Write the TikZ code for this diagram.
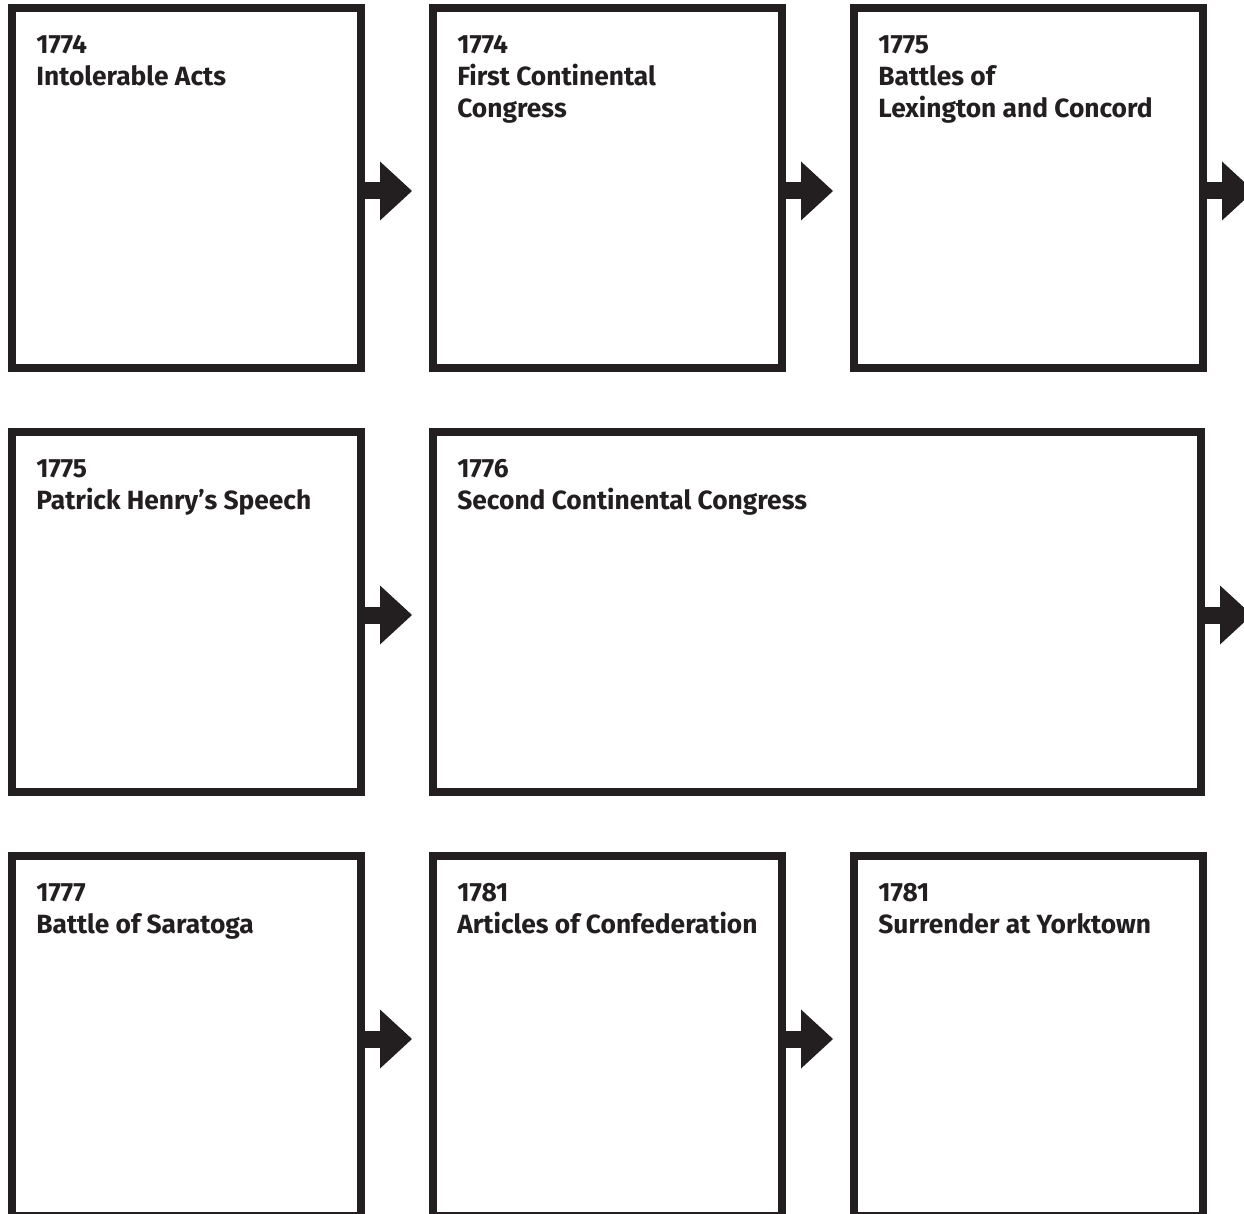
\documentclass[tikz,border=0pt]{standalone}
\usepackage{fontspec}
\newfontfamily\eventfont{Fira Sans}
\usetikzlibrary{positioning,arrows.meta}

\begin{document}
\begin{tikzpicture}

% Define colors for styling
\definecolor{inkColor}{RGB}{35,31,32} % Near black for frames and arrows

\tikzset{
  event/.style={
    draw=inkColor, % Thick frame
    line width=0.16cm,
    minimum width=6.98cm, % Width of a single box
    minimum height=7.2cm, % Height of every box
    inner sep=0pt
  },
  wideevent/.style={event, minimum width=15.36cm}, % Box spanning two columns
  eventtext/.style={
    font=\eventfont\bfseries\fontsize{15pt}{18.2pt}\selectfont,
    text=inkColor,
    align=left,
    inner sep=0pt
  },
  flow/.style={
    draw=inkColor,
    line width=0.34cm, % Stem of the arrow
    -{Triangle[length=0.64cm,width=1.18cm,line width=0pt]},
    shorten >=0.34cm,
    transform canvas={yshift=-0.06cm}
  }
}

% Page size
\useasboundingbox (0,0) rectangle (24.88,-24.28);
\clip (0,0) rectangle (24.88,-24.28);

% Row 1
\node[event] (b1) at (3.73,-3.76) {};
\node[event, right=1.28cm of b1] (b2) {};
\node[event, right=1.28cm of b2] (b3) {};
\coordinate[right=1.28cm of b3.east] (e3);

% Row 2
\node[event, below=1.12cm of b1] (b4) {};
\node[wideevent, right=1.28cm of b4] (b5) {};
\coordinate[right=1.28cm of b5.east] (e5);

% Row 3
\node[event, below=1.12cm of b4] (b7) {};
\node[event, right=1.28cm of b7] (b8) {};
\node[event, right=1.28cm of b8] (b9) {};

% Texts in the upper left corners
\node[eventtext, below right=0.62cm and 0.56cm of b1.north west] (t1) {1774\\Intolerable Acts};
\node[eventtext, below right=0.62cm and 0.56cm of b2.north west] (t2) {1774\\First Continental\\Congress};
\node[eventtext, below right=0.62cm and 0.56cm of b3.north west] (t3) {1775\\Battles of\\Lexington and Concord};
\node[eventtext, below right=0.62cm and 0.56cm of b4.north west] (t4) {1775\\Patrick Henry’s Speech};
\node[eventtext, below right=0.62cm and 0.56cm of b5.north west] (t5) {1776\\Second Continental Congress};
\node[eventtext, below right=0.62cm and 0.56cm of b7.north west] (t7) {1777\\Battle of Saratoga};
\node[eventtext, below right=0.62cm and 0.56cm of b8.north west] (t8) {1781\\Articles of Confederation};
\node[eventtext, below right=0.62cm and 0.56cm of b9.north west] (t9) {1781\\Surrender at Yorktown};

% Arrows between the boxes
\draw[flow] (b1) -- (b2);
\draw[flow] (b2) -- (b3);
\draw[flow] (b3) -- (e3);
\draw[flow] (b4) -- (b5);
\draw[flow] (b5) -- (e5);
\draw[flow] (b7) -- (b8);
\draw[flow] (b8) -- (b9);

\end{tikzpicture}
\end{document}
